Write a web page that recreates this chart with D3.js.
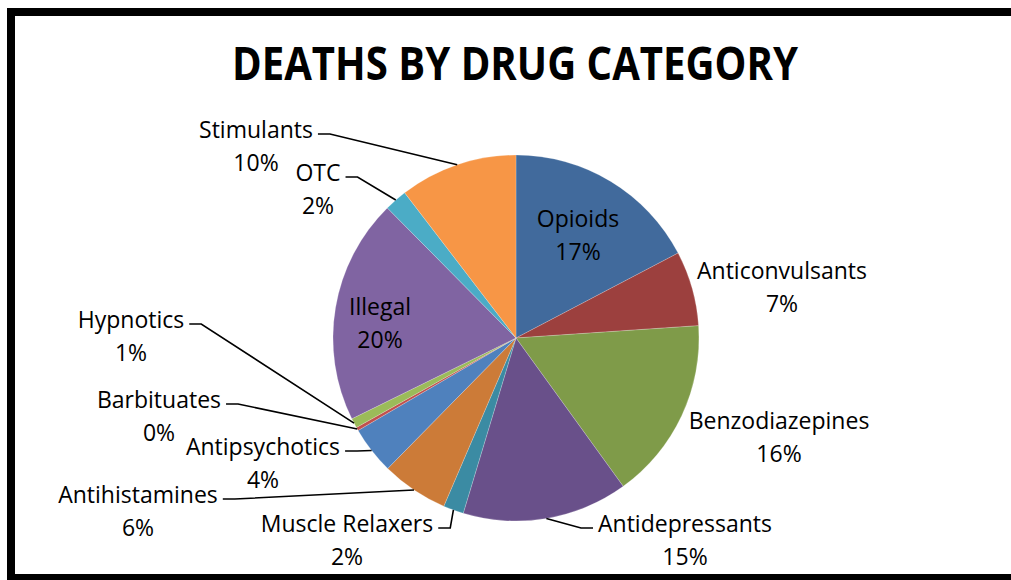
<!DOCTYPE html>
<html><head><meta charset="utf-8">
<script src="https://cdn.jsdelivr.net/npm/d3@7"></script>
<style>body{margin:0;background:#fff;overflow:hidden} svg{display:block}</style>
</head><body><svg id="c" width="1011" height="580"></svg>
<script>
// ---- data ----
const categories = ["Opioids","Anticonvulsants","Benzodiazepines","Antidepressants","Muscle Relaxers","Antihistamines","Antipsychotics","Barbituates","Hypnotics","Illegal","OTC","Stimulants"];
const values = [17.3, 6.6, 16.1, 14.6, 1.8, 5.9, 4.2, 0.3, 0.85, 19.85, 2.0, 10.4];
const colors = ["#416A9C","#9C403E","#7F9B49","#69508A","#3B8BA3","#CC7B38","#4F81BD","#C0504D","#9BBB59","#8064A2","#4BACC6","#F79646"];
const title = "DEATHS BY DRUG CATEGORY";

// ---- layout (label centres: x, y of first line centre; leader side) ----
const labelLayout = {
  "Opioids":        {x:578, y:219, leader:null},
  "Anticonvulsants":{x:782, y:271, leader:null},
  "Benzodiazepines":{x:779, y:421, leader:null},
  "Antidepressants":{x:685, y:524, leader:"right"},
  "Muscle Relaxers":{x:347, y:524, leader:"left"},
  "Antihistamines": {x:138, y:495, leader:"left"},
  "Antipsychotics": {x:263, y:447, leader:"left"},
  "Barbituates":    {x:159, y:400, leader:"left"},
  "Hypnotics":      {x:131, y:320, leader:"left"},
  "Illegal":        {x:380, y:307, leader:null},
  "OTC":            {x:318, y:173, leader:"left"},
  "Stimulants":     {x:256, y:130, leader:"left"}
};
const W = 1011, H = 580;
const cx = 516, cy = 338, R = 183;
const fontFam = "'Open Sans', 'Noto Sans', sans-serif";
const labelSize = 23, lineGap = 33;

const svg = d3.select("#c");
svg.append("rect").attr("width", W).attr("height", H).attr("fill", "#fff");
// frame
svg.append("rect").attr("x", 11).attr("y", 12).attr("width", W + 40).attr("height", 566)
  .attr("fill", "none").attr("stroke", "#000").attr("stroke-width", 8);

// title
const t = svg.append("text").attr("x", 515).attr("y", 80).attr("text-anchor", "middle")
  .attr("font-family", fontFam).attr("font-weight", "700").attr("font-size", 47)
  .attr("fill", "#000").text(title);
t.attr("textLength", 566).attr("lengthAdjust", "spacingAndGlyphs");

const total = d3.sum(values);
const data = categories.map((c, i) => ({name: c, value: values[i], color: colors[i]}));
const pie = d3.pie().value(d => d.value).sort(null);
const arcs = pie(data);
const arc = d3.arc().innerRadius(0).outerRadius(R);

const g = svg.append("g").attr("transform", `translate(${cx},${cy})`);
g.selectAll("path").data(arcs).join("path")
  .attr("d", arc).attr("fill", d => d.data.color)
  .attr("stroke", "#ffffff").attr("stroke-opacity", 0.4).attr("stroke-width", 0.5);

// labels
const lab = svg.append("g").attr("font-family", fontFam).attr("font-size", labelSize).attr("fill", "#000");
arcs.forEach(a => {
  const L = labelLayout[a.data.name];
  const pct = Math.round(a.data.value / total * 100) + "%";
  const t1 = lab.append("text").attr("x", L.x).attr("y", L.y + 8).attr("text-anchor", "middle").text(a.data.name);
  lab.append("text").attr("x", L.x).attr("y", L.y + 8 + lineGap).attr("text-anchor", "middle").text(pct);
  if (L.leader) {
    const bb = t1.node().getBBox();
    const mid = (a.startAngle + a.endAngle) / 2;
    const ex = cx + R * Math.sin(mid), ey = cy - R * Math.cos(mid);
    const ly = L.y + 4;
    let sx, kx;
    if (L.leader === "left") { sx = bb.x + bb.width + 5; kx = sx + 12; }
    else { sx = bb.x - 5; kx = sx - 12; }
    svg.append("polyline")
      .attr("points", `${sx},${ly} ${kx},${ly} ${ex},${ey}`)
      .attr("fill", "none").attr("stroke", "#000").attr("stroke-width", 1.6);
  }
});
</script></body></html>
